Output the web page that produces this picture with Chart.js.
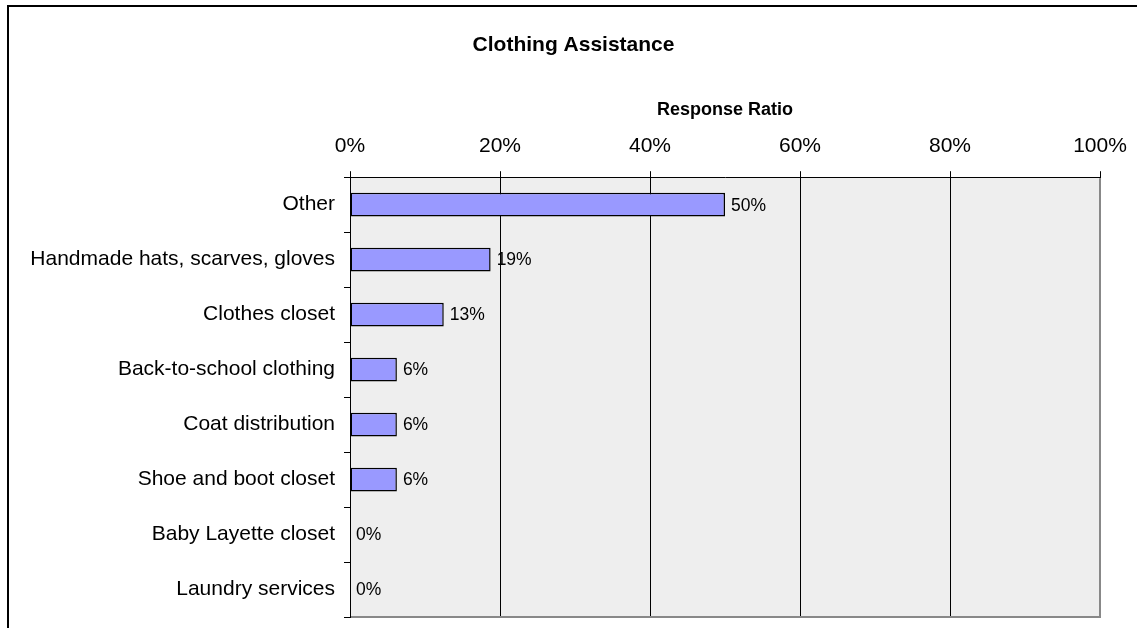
<!DOCTYPE html>
<html>
<head>
<meta charset="utf-8">
<title>Clothing Assistance</title>
<script src="https://cdn.jsdelivr.net/npm/chart.js@4.4.0/dist/chart.umd.min.js"></script>
<style>
    html, body { margin: 0; padding: 0; background: #fff; overflow: hidden; }
    #wrap { position: relative; width: 1137px; height: 628px; overflow: hidden; }
    #frame { position: absolute; left: 7px; top: 5px; width: 1300px; height: 800px;
             border-left: 2px solid #000; border-top: 2px solid #000; }
    canvas { position: absolute; left: 0; top: 0; }
</style>
</head>
<body>
<div id="wrap">
    <div id="frame"></div>
    <canvas id="chart" width="1137" height="628"></canvas>
</div>
<script>
// data
const categories = [
    'Other',
    'Handmade hats, scarves, gloves',
    'Clothes closet',
    'Back-to-school clothing',
    'Coat distribution',
    'Shoe and boot closet',
    'Baby Layette closet',
    'Laundry services'
];
const responseRatio = [0.5, 0.1875, 0.125, 0.0625, 0.0625, 0.0625, 0, 0];
const xTicks = [0, 0.2, 0.4, 0.6, 0.8, 1.0];

const pct = v => Math.round(v * 100) + '%';

Chart.defaults.font.family = '"Liberation Sans", Arial, sans-serif';
Chart.defaults.color = '#000';

// grey plot background + shadow edges on the right and bottom
const plotBg = {
    id: 'plotBg',
    beforeDraw(chart) {
        const { ctx, chartArea: a } = chart;
        ctx.save();
        ctx.fillStyle = '#eeeeee';
        ctx.fillRect(a.left, a.top, a.right - a.left, a.bottom - a.top);
        ctx.restore();
    },
    afterDraw(chart) {
        const { ctx, chartArea: a } = chart;
        ctx.save();
        ctx.strokeStyle = '#888';
        ctx.lineWidth = 2;
        ctx.beginPath();
        ctx.moveTo(a.right, a.top + 1);
        ctx.lineTo(a.right, a.bottom);
        ctx.lineTo(a.left + 1, a.bottom);
        ctx.stroke();
        ctx.restore();
    }
};

// value labels at the end of each bar
const barLabels = {
    id: 'barLabels',
    afterDatasetsDraw(chart) {
        const ctx = chart.ctx;
        const meta = chart.getDatasetMeta(0);
        ctx.save();
        ctx.font = '17.5px "Liberation Sans", Arial, sans-serif';
        ctx.fillStyle = '#000';
        ctx.textAlign = 'left';
        ctx.textBaseline = 'middle';
        meta.data.forEach((bar, i) => {
            ctx.fillText(pct(responseRatio[i]), bar.x + 6, bar.y + 1);
        });
        ctx.restore();
    }
};

new Chart(document.getElementById('chart'), {
    type: 'bar',
    data: {
        labels: categories,
        datasets: [{
            data: responseRatio,
            backgroundColor: '#9999ff',
            borderColor: '#000',
            borderWidth: 1.5,
            borderSkipped: false,
            categoryPercentage: 1,
            barPercentage: 0.43
        }]
    },
    options: {
        indexAxis: 'y',
        responsive: false,
        animation: false,
        layout: { padding: { left: 10, right: 0, top: 0, bottom: 11 } },
        plugins: {
            legend: { display: false },
            tooltip: { enabled: false },
            title: {
                display: true,
                text: 'Clothing Assistance',
                color: '#000',
                font: { size: 21, weight: 'bold' },
                padding: { top: 33, bottom: 8 }
            }
        },
        scales: {
            x: {
                type: 'linear',
                position: 'top',
                min: 0,
                max: 1,
                afterBuildTicks: scale => { scale.ticks = xTicks.map(v => ({ value: v })); },
                afterFit: scale => {
                    scale.height = 111;
                    scale.paddingLeft = 0;
                    scale.paddingRight = 37;
                },
                ticks: {
                    callback: v => pct(v),
                    font: { size: 21 },
                    color: '#000',
                    padding: 12
                },
                grid: {
                    color: c => (c.tick && c.tick.value === 1 ? '#888' : '#000'),
                    tickColor: '#000',
                    tickLength: 6,
                    lineWidth: 1
                },
                border: { display: true, color: '#000', width: 1 },
                title: {
                    display: true,
                    text: 'Response Ratio',
                    color: '#000',
                    font: { size: 18, weight: 'bold' },
                    padding: { top: 33, bottom: 0 }
                }
            },
            y: {
                afterFit: scale => {
                    scale.width = 340;
                    scale.paddingTop = 0;
                    scale.paddingBottom = 0;
                },
                ticks: {
                    font: { size: 21 },
                    color: '#000',
                    padding: 9
                },
                grid: {
                    offset: true,
                    drawOnChartArea: false,
                    color: '#000',
                    tickLength: 6
                },
                border: { display: true, color: '#000', width: 1 }
            }
        }
    },
    plugins: [plotBg, barLabels]
});
</script>
</body>
</html>
